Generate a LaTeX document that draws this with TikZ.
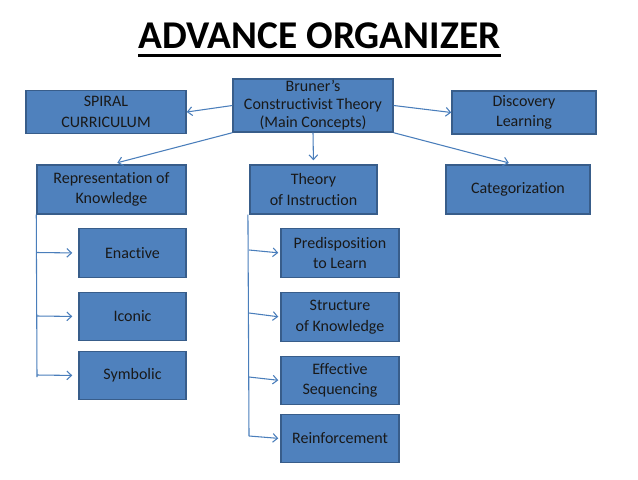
\documentclass[tikz,border=0pt]{standalone}
\usepackage{fontspec}
\setmainfont{Carlito}[Ligatures=NoCommon]
\usepackage{xcolor}
\usepackage{tikz}
\usetikzlibrary{arrows.meta}

\definecolor{boxfill}{HTML}{4F81BD}
\definecolor{boxline}{HTML}{385D8A}
\definecolor{linkcol}{HTML}{4A7EBB}

\tikzset{
  conbox/.style={draw=boxline, fill=boxfill, line width=1.1pt, inner sep=0pt,
    align=center, text=black!90, font=\fontsize{12}{15.3}\selectfont},
  link/.style={draw=linkcol, line width=0.8pt, -{Straight Barb[length=3.5pt,width=6.5pt]}},
  rail/.style={draw=linkcol, line width=0.8pt}
}

\begin{document}
\begin{tikzpicture}[x=0.75pt,y=-0.75pt]

\useasboundingbox (0,0) rectangle (638,479);

\node[inner sep=0pt, font=\fontsize{29.5}{32}\bfseries\selectfont] (title) at (319.5,36) {ADVANCE ORGANIZER};
\draw[line width=2.2pt] ([yshift=-5pt]title.base west) -- ([yshift=-5pt]title.base east);

% top row
\node[conbox, minimum width=120pt, minimum height=32.25pt] (spiral) at (106,112) {SPIRAL\\CURRICULUM};
\node[conbox, minimum width=120pt, minimum height=39.75pt, font=\fontsize{12}{13.6}\selectfont] (bruner) at (313,105.5) {Bruner’s\\Constructivist Theory\\(Main Concepts)};
\node[conbox, minimum width=108pt, minimum height=32.25pt] (discovery) at (524,112.5) {Discovery\\Learning};

% second row
\node[conbox, minimum width=111.75pt, minimum height=36.75pt] (repr) at (111.5,189.5) {Representation of\\Knowledge};
\node[conbox, minimum width=95.25pt, minimum height=36.75pt] (theory) at (313.5,189.5) {Theory\\of Instruction};
\node[conbox, minimum width=108pt, minimum height=36.75pt] (categ) at (518,189.5) {Categorization};

% left column
\node[conbox, minimum width=80.25pt, minimum height=36.75pt] (enactive) at (132.5,253) {Enactive};
\node[conbox, minimum width=80.25pt, minimum height=36pt] (iconic) at (132.5,316.5) {Iconic};
\node[conbox, minimum width=80.25pt, minimum height=36pt] (symbolic) at (132.5,375.5) {Symbolic};

% middle column
\node[conbox, minimum width=88.5pt, minimum height=36.75pt] (predisp) at (340,253) {Predisposition\\to Learn};
\node[conbox, minimum width=88.5pt, minimum height=36.75pt] (structure) at (340,317) {Structure\\of Knowledge};
\node[conbox, minimum width=88.5pt, minimum height=36pt] (sequencing) at (340,380.5) {Effective\\Sequencing};
\node[conbox, minimum width=88.5pt, minimum height=36pt] (reinforce) at (340,438.5) {Reinforcement};

\draw[link] (bruner.west) -- (spiral.east);
\draw[link] (bruner.east) -- (discovery.west);
\draw[link, shorten >=3pt] (bruner.south) -- (theory.north);
\draw[link, shorten >=4.5pt] (bruner.south west) -- (repr.north);
\draw[link, shorten >=4pt] (bruner.south east) -- ([xshift=-3pt]categ.north);

\coordinate (rbot) at (37,377);
\coordinate (tbot) at (249,436);
\draw[rail] (repr.south west) -- (rbot);
\draw[rail] ([xshift=-1pt]theory.south west) -- (tbot);

\draw[link, shorten >=4.5pt] (37,252.5) -- (enactive.west);
\draw[link, shorten >=4.5pt] (37,316) -- (iconic.west);
\draw[link, shorten >=4.5pt] (37,375) -- (symbolic.west);

\draw[link, shorten >=1.5pt] (249,250) -- (predisp.west);
\draw[link, shorten >=1.5pt] (249,313) -- (structure.west);
\draw[link, shorten >=1.5pt] (249,377) -- (sequencing.west);
\draw[link, shorten >=1.5pt] (tbot) -- (reinforce.west);

\end{tikzpicture}
\end{document}
